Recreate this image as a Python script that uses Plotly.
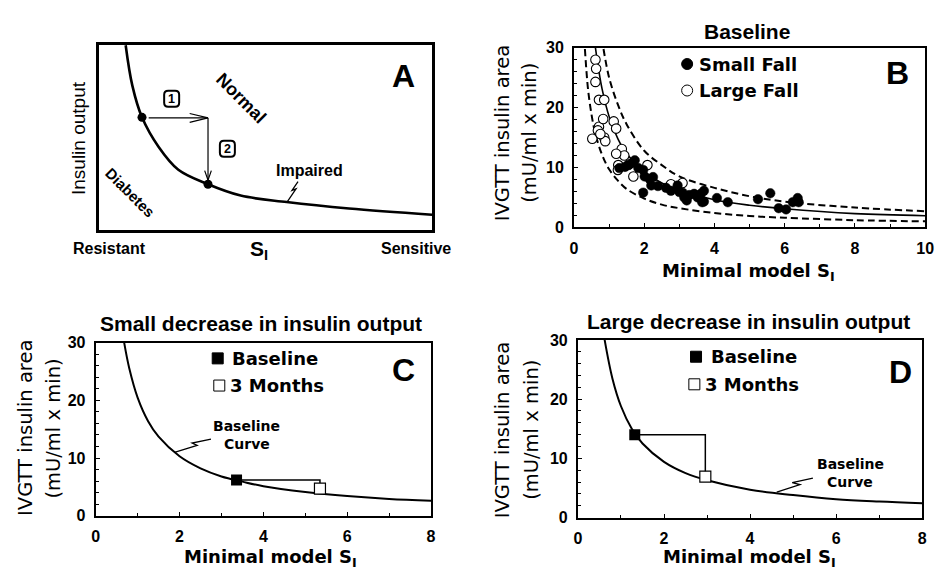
import plotly.graph_objects as go

W, H = 943, 578

# ---------------- data ----------------
# Panel A (schematic, arbitrary units)
a_curve_x = [0.81, 1.01, 1.30, 1.80, 2.39, 3.28, 4.26, 5.64, 7.51, 10.0]
a_curve_y = [9.98, 7.80, 6.09, 4.49, 3.26, 2.48, 1.87, 1.52, 1.17, 0.84]
a_dots_x = [1.30, 3.28]
a_dots_y = [6.09, 2.48]

# Panel B
small_fall_x = [1.29, 1.45, 1.55, 1.67, 1.73, 1.83, 1.97, 2.01, 1.97, 2.15, 2.25, 2.20, 2.39, 2.62,
                2.76, 2.95, 3.00, 3.09, 3.14, 3.21, 3.28, 3.42, 3.52, 3.61, 3.65, 3.70, 3.70,
                4.07, 4.38, 5.24, 5.59, 5.83, 6.04, 6.23, 6.37, 6.40]
small_fall_y = [9.9, 10.1, 10.4, 10.8, 11.2, 9.9, 9.6, 8.5, 5.8, 8.1, 8.4, 7.0, 6.9, 6.6,
                6.1, 7.0, 5.9, 5.8, 5.0, 4.5, 5.4, 5.6, 5.0, 5.6, 4.2, 6.1, 4.3,
                4.9, 4.2, 4.7, 5.7, 3.2, 3.0, 4.2, 4.9, 4.2]
large_fall_x = [0.61, 0.63, 0.61, 0.71, 0.86, 0.52, 0.71, 0.68, 0.83, 0.86, 0.89, 1.13, 1.20,
                0.75, 1.36, 1.43, 1.20, 1.26, 1.25, 1.69, 2.09, 1.56, 2.76, 3.09]
large_fall_y = [28.0, 26.5, 24.3, 21.3, 21.3, 14.8, 16.8, 16.2, 18.1, 15.0, 14.4, 17.7, 16.5,
                15.6, 13.1, 12.0, 12.3, 10.4, 9.6, 8.5, 10.4, 10.5, 7.2, 7.4]
b_fit_x = [0.61, 0.7, 0.8, 1.0, 1.25, 1.5, 2, 2.5, 3, 4, 5, 6, 8, 10]
b_fit_y = [30, 26.4, 23.1, 18.5, 14.8, 12.3, 9.3, 7.4, 6.2, 4.6, 3.7, 3.1, 2.3, 1.95]
b_upper_x = [0.84, 1, 1.25, 1.5, 2, 2.5, 3, 4, 5, 6, 8, 10]
b_upper_y = [29.8, 25, 20.5, 17.2, 12.8, 10.4, 8.5, 6.6, 5.2, 4.3, 3.3, 2.7]
b_lower_x = [0.31, 0.4, 0.5, 0.6, 0.8, 1, 1.25, 1.5, 2, 2.5, 3, 4, 5, 6, 8, 10]
b_lower_y = [29.8, 23, 18.8, 15.8, 12.1, 9.7, 7.8, 6.4, 4.8, 3.8, 3.2, 2.4, 1.9, 1.6, 1.2, 1.0]

# Panel C
c_curve_x = [0.68, 0.8, 1, 1.25, 1.5, 2, 2.5, 3, 3.5, 4, 5, 6, 7, 8]
c_curve_y = [30, 25.6, 20.5, 16.4, 13.7, 10.3, 8.2, 6.8, 5.9, 5.1, 4.1, 3.4, 2.9, 2.6]
c_base = (3.36, 6.2)
c_3mo = (5.35, 4.7)

# Panel D
d_curve_x = [0.62, 0.8, 1, 1.25, 1.5, 2, 2.5, 3, 4, 5, 6, 7, 8]
d_curve_y = [30, 23.5, 18.8, 15, 12.5, 9.4, 7.5, 6.3, 4.7, 3.8, 3.1, 2.7, 2.4]
d_base = (1.32, 14.0)
d_3mo = (2.96, 6.9)

# ---------------- figure ----------------
fig = go.Figure()
BASE = "Liberation Sans, Arial, sans-serif"
DV = "DejaVu Sans, sans-serif"

def px(x):
    return x / W

def py(y):
    return 1 - y / H

# Panel A
fig.add_trace(go.Scatter(x=a_curve_x, y=a_curve_y, mode="lines", line=dict(color="black", width=2.6, shape="spline"),
                         xaxis="x", yaxis="y", showlegend=False, hoverinfo="skip"))
fig.add_trace(go.Scatter(x=a_dots_x, y=a_dots_y, mode="markers", marker=dict(color="black", size=9),
                         xaxis="x", yaxis="y", showlegend=False))

# Panel B
fig.add_trace(go.Scatter(x=b_upper_x, y=b_upper_y, mode="lines",
                         line=dict(color="black", width=2, dash="7px,4px", shape="spline"),
                         xaxis="x2", yaxis="y2", showlegend=False))
fig.add_trace(go.Scatter(x=b_lower_x, y=b_lower_y, mode="lines",
                         line=dict(color="black", width=2, dash="7px,4px", shape="spline"),
                         xaxis="x2", yaxis="y2", showlegend=False))
fig.add_trace(go.Scatter(x=b_fit_x, y=b_fit_y, mode="lines",
                         line=dict(color="black", width=1.6, shape="spline"),
                         xaxis="x2", yaxis="y2", showlegend=False))
fig.add_trace(go.Scatter(x=large_fall_x, y=large_fall_y, mode="markers",
                         marker=dict(color="white", size=9.5, line=dict(color="black", width=1.1)),
                         xaxis="x2", yaxis="y2", name="Large Fall", showlegend=False))
fig.add_trace(go.Scatter(x=small_fall_x, y=small_fall_y, mode="markers",
                         marker=dict(color="black", size=9.5, line=dict(color="black", width=0.5)),
                         xaxis="x2", yaxis="y2", name="Small Fall", showlegend=False))

# Panel C and D
for (cx, cy, base, mo, xa, ya) in [(c_curve_x, c_curve_y, c_base, c_3mo, "x3", "y3"),
                                    (d_curve_x, d_curve_y, d_base, d_3mo, "x4", "y4")]:
    fig.add_trace(go.Scatter(x=cx, y=cy, mode="lines", line=dict(color="black", width=2, shape="spline"),
                             xaxis=xa, yaxis=ya, showlegend=False))
    fig.add_trace(go.Scatter(x=[base[0], mo[0], mo[0]], y=[base[1], base[1], mo[1]], mode="lines",
                             line=dict(color="black", width=1.5), xaxis=xa, yaxis=ya, showlegend=False))
    fig.add_trace(go.Scatter(x=[base[0]], y=[base[1]], mode="markers",
                             marker=dict(symbol="square", color="black", size=11),
                             xaxis=xa, yaxis=ya, showlegend=False))
    fig.add_trace(go.Scatter(x=[mo[0]], y=[mo[1]], mode="markers",
                             marker=dict(symbol="square", color="white", size=11, line=dict(color="black", width=1.2)),
                             xaxis=xa, yaxis=ya, showlegend=False))

# ---------------- axes ----------------
def data_axis(domain, rng, dtick, minor_dtick, anchor, fsize=16):
    return dict(domain=domain, range=rng, anchor=anchor, showgrid=False, zeroline=False,
                showline=True, linecolor="black", linewidth=2, mirror=True,
                ticks="inside", ticklen=4, tickwidth=1, tickcolor="black", dtick=dtick, tick0=0,
                minor=dict(ticks="inside", ticklen=3, tickwidth=1, tickcolor="black", dtick=minor_dtick),
                tickfont=dict(family=BASE, size=fsize, color="black", weight="bold"), ticklabelstandoff=5)

fig.update_layout(
    width=W, height=H, margin=dict(l=0, r=0, t=0, b=0),
    paper_bgcolor="white", plot_bgcolor="white",
    font=dict(family=BASE, color="black"),
    xaxis=dict(domain=[96 / W, 434 / W], range=[0, 10], anchor="y", showgrid=False, zeroline=False,
               showline=True, linecolor="black", linewidth=2.5, mirror=True, showticklabels=False, ticks=""),
    yaxis=dict(domain=[py(229), py(38)], range=[0, 10], anchor="x", showgrid=False, zeroline=False,
               showline=True, linecolor="black", linewidth=2.5, mirror=True, showticklabels=False, ticks=""),
    xaxis2=data_axis([578 / W, 934 / W], [0, 10], 2, 1, "y2"),
    yaxis2=data_axis([py(226), py(41)], [0, 30], 10, 2, "x2"),
    xaxis3=data_axis([93 / W, 433 / W], [0, 8], 2, 1, "y3"),
    yaxis3=data_axis([py(523), py(345)], [0, 30], 10, 2, "x3"),
    xaxis4=data_axis([582 / W, 931 / W], [0, 8], 2, 1, "y4"),
    yaxis4=data_axis([py(525), py(342)], [0, 30], 10, 2, "x4"),
)

# ---------------- shapes ----------------
shapes = []
# Panel A arrows
shapes.append(dict(type="path", xref="x", yref="y", path="M 1.50 6.06 L 3.28 6.06", line=dict(color="black", width=1.2)))
shapes.append(dict(type="path", xref="x", yref="y", path="M 2.73 6.30 L 3.28 6.06 L 2.73 5.82", line=dict(color="black", width=1.2)))
shapes.append(dict(type="path", xref="x", yref="y", path="M 3.28 6.06 L 3.28 2.70", line=dict(color="black", width=1.2)))
shapes.append(dict(type="path", xref="x", yref="y", path="M 3.18 3.22 L 3.28 2.70 L 3.38 3.22", line=dict(color="black", width=1.2)))
# lightning pointers
shapes.append(dict(type="path", xref="x", yref="y", path="M 5.98 2.62 L 5.80 2.15 L 5.92 2.23 L 5.65 1.52",
                   line=dict(color="black", width=1.3)))
shapes.append(dict(type="path", xref="x3", yref="y3", path="M 2.75 13.3 L 2.30 12.6 L 2.42 12.2 L 1.88 11.0",
                   line=dict(color="black", width=1.3)))
shapes.append(dict(type="path", xref="x4", yref="y4", path="M 5.46 6.67 L 4.98 5.9 L 5.16 5.57 L 4.62 4.3",
                   line=dict(color="black", width=1.3)))

# circled step numbers in panel A (rounded boxes)
def rbox(cx, cy, w=15, h=16, r=4):
    x0, x1 = -w / 2, w / 2
    y0, y1 = -h / 2, h / 2
    path = (f"M {x0 + r} {y0} L {x1 - r} {y0} Q {x1} {y0} {x1} {y0 + r} L {x1} {y1 - r} "
            f"Q {x1} {y1} {x1 - r} {y1} L {x0 + r} {y1} Q {x0} {y1} {x0} {y1 - r} "
            f"L {x0} {y0 + r} Q {x0} {y0} {x0 + r} {y0} Z")
    shapes.append(dict(type="path", xref="paper", yref="paper", xsizemode="pixel", ysizemode="pixel",
                       xanchor=px(cx), yanchor=py(cy), path=path, fillcolor="white",
                       line=dict(color="black", width=2)))

rbox(170, 93.5)
rbox(226.5, 145)

# legend keys
def key(cx, cy, kind, filled):
    shapes.append(dict(type=kind, xref="paper", yref="paper", xsizemode="pixel", ysizemode="pixel",
                       xanchor=px(cx), yanchor=py(cy), x0=-5.5, x1=5.5, y0=-5.5, y1=5.5,
                       fillcolor="black" if filled else "white", line=dict(color="black", width=1)))

key(692.7, 57.7, "circle", True)
key(692.7, 85, "circle", False)
key(216.7, 361, "rect", True)
key(218.3, 389, "rect", False)
key(701.7, 359.3, "rect", True)
key(700, 387.7, "rect", False)
fig.update_layout(shapes=shapes)

# ---------------- annotations ----------------
ann = []

def text(x, y, t, size, family=BASE, bold=True, angle=0, xanchor="center"):
    ann.append(dict(x=px(x), y=py(y), xref="paper", yref="paper", text=t, showarrow=False,
                    xanchor=xanchor, yanchor="middle", textangle=angle,
                    font=dict(family=family, size=size, color="black", weight="bold" if bold else "normal")))

# Panel A texts
text(75, 134, "Insulin output", 19, bold=False, angle=-90)
text(107, 248, "Resistant", 16)
text(259, 249, "S<sub>I</sub>", 21)
text(418, 248, "Sensitive", 16)
text(240, 93, "Normal", 18, angle=45)
text(128, 190, "Diabetes", 15, angle=45)
text(310, 167, "Impaired", 16)
text(405, 70, "A", 32)
text(170, 94, "1", 12.5)
text(226.5, 145.5, "2", 12.5)

# Panel titles
text(753, 24, "Baseline", 21)
text(261, 325, "Small decrease in insulin output", 21)
text(755, 323, "Large decrease in insulin output", 21)

# Panel letters
text(906, 67, "B", 32)
text(405, 373, "C", 32)
text(909, 375, "D", 32)

# Legends
text(703, 58, "Small Fall", 18, family=DV, xanchor="left")
text(703, 85, "Large Fall", 18, family=DV, xanchor="left")
text(229, 361, "Baseline", 18, family=DV, xanchor="left")
text(227, 389, "3 Months", 18, family=DV, xanchor="left")
text(715, 359.5, "Baseline", 18, family=DV, xanchor="left")
text(709, 388, "3 Months", 18, family=DV, xanchor="left")

# Baseline curve labels
text(246, 431, "Baseline", 14, family=DV)
text(246, 449.5, "Curve", 14, family=DV)
text(858, 470, "Baseline", 14, family=DV)
text(858, 488.5, "Curve", 14, family=DV)

# Axis titles
for (cx, cy) in [(755, 272), (270, 567), (756, 567)]:
    text(cx, cy, "Minimal model S<sub>I</sub>", 18, family=DV)
for (x1, x2, yc) in [(505, 533, 129), (22, 50, 433), (505, 535, 435)]:
    text(x1, yc, "IVGTT insulin area", 19.5, family=DV, bold=False, angle=-90)
    text(x2, yc, "(mU/ml x min)", 19.5, family=DV, bold=False, angle=-90)

fig.update_layout(annotations=ann)

fig.write_html("out.html",
               config={"displayModeBar": False, "staticPlot": True},
               post_script="document.body.style.margin='0';document.body.style.padding='0';"
                           "document.documentElement.style.overflow='hidden';")
